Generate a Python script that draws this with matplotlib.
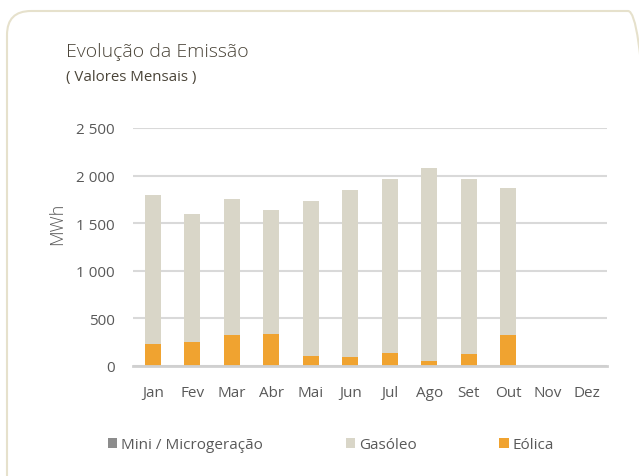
import numpy as np
import matplotlib.pyplot as plt
from matplotlib.patches import FancyBboxPatch
from matplotlib.transforms import IdentityTransform

meses = ['Jan', 'Fev', 'Mar', 'Abr', 'Mai', 'Jun', 'Jul', 'Ago', 'Set', 'Out', 'Nov', 'Dez']
eolica = [231, 252, 329, 336, 105, 98, 140, 56, 126, 329, 0, 0]
gasoleo = [1569, 1348, 1425, 1299, 1632, 1751, 1824, 2024, 1838, 1541, 0, 0]
micro = [0, 0, 0, 0, 0, 0, 0, 0, 0, 0, 0, 0]
yticks = [0, 500, 1000, 1500, 2000, 2500]
ytick_labels = ['0', '500', '1 000', '1 500', '2 000', '2 500']

plt.rcParams['font.family'] = ['Open Sans', 'DejaVu Sans']

fig = plt.figure(figsize=(6.39, 4.77), dpi=100)
W, H = 639, 477

# moldura arredondada (em pixeis)
caixa = FancyBboxPatch((7, -60), 645, H - 12 + 60,
                       boxstyle='round,pad=0,rounding_size=24',
                       transform=IdentityTransform(), fill=False,
                       edgecolor='#e6e1cc', linewidth=1.5, clip_on=False)
fig.patches.append(caixa)

ax = fig.add_axes([133 / W, 1 - 367 / H, (607 - 133) / W, (367 - 129) / H])

x = np.arange(len(meses))
w = 0.41
b1 = ax.bar(x, eolica, w, color='#f0a330', label='Eólica', zorder=3)
b2 = ax.bar(x, gasoleo, w, bottom=eolica, color='#d9d6c8', label='Gasóleo', zorder=3)
base = np.array(eolica) + np.array(gasoleo)
b3 = ax.bar(x, micro, w, bottom=base, color='#8c8c8c', label='Mini / Microgeração', zorder=3)

ax.set_xlim(-0.5, len(meses) - 0.5)
ax.set_ylim(0, 2500)
ax.set_yticks(yticks)
ax.set_yticklabels(ytick_labels)
ax.set_xticks(x)
ax.set_xticklabels(meses)
ax.tick_params(axis='both', length=0, labelsize=11, labelcolor='#595959')
ax.tick_params(axis='y', pad=13)
ax.tick_params(axis='x', pad=14)
ax.grid(axis='y', color='#d9d9d9', linewidth=1.5, zorder=0)
for s in ['top', 'right', 'left']:
    ax.spines[s].set_visible(False)
ax.spines['bottom'].set_color('#d0d0d0')
ax.spines['bottom'].set_linewidth(2)
ax.spines['bottom'].set_zorder(4)

fig.text(57 / W, 1 - 224 / H, 'MWh', rotation=90, ha='center', va='center',
         fontsize=13, color='#595959', fontweight='light')

fig.text(66 / W, 1 - 52 / H, 'Evolução da Emissão', fontsize=14,
         color='#4a4438', va='center', ha='left', fontweight='light')
fig.text(66 / W, 1 - 78 / H, '( Valores Mensais )', fontsize=10.8,
         color='#4a4438', va='center', ha='left')

fig.legend(handles=[b3, b2, b1], loc='center left',
           bbox_to_anchor=(108 / W, 1 - 446 / H), ncol=3, frameon=False,
           fontsize=11, labelcolor='#595959', handlelength=0.62, handleheight=0.62,
           handletextpad=0.25, columnspacing=5.4, borderaxespad=0, borderpad=0)

fig.savefig('out.png', dpi=100)
